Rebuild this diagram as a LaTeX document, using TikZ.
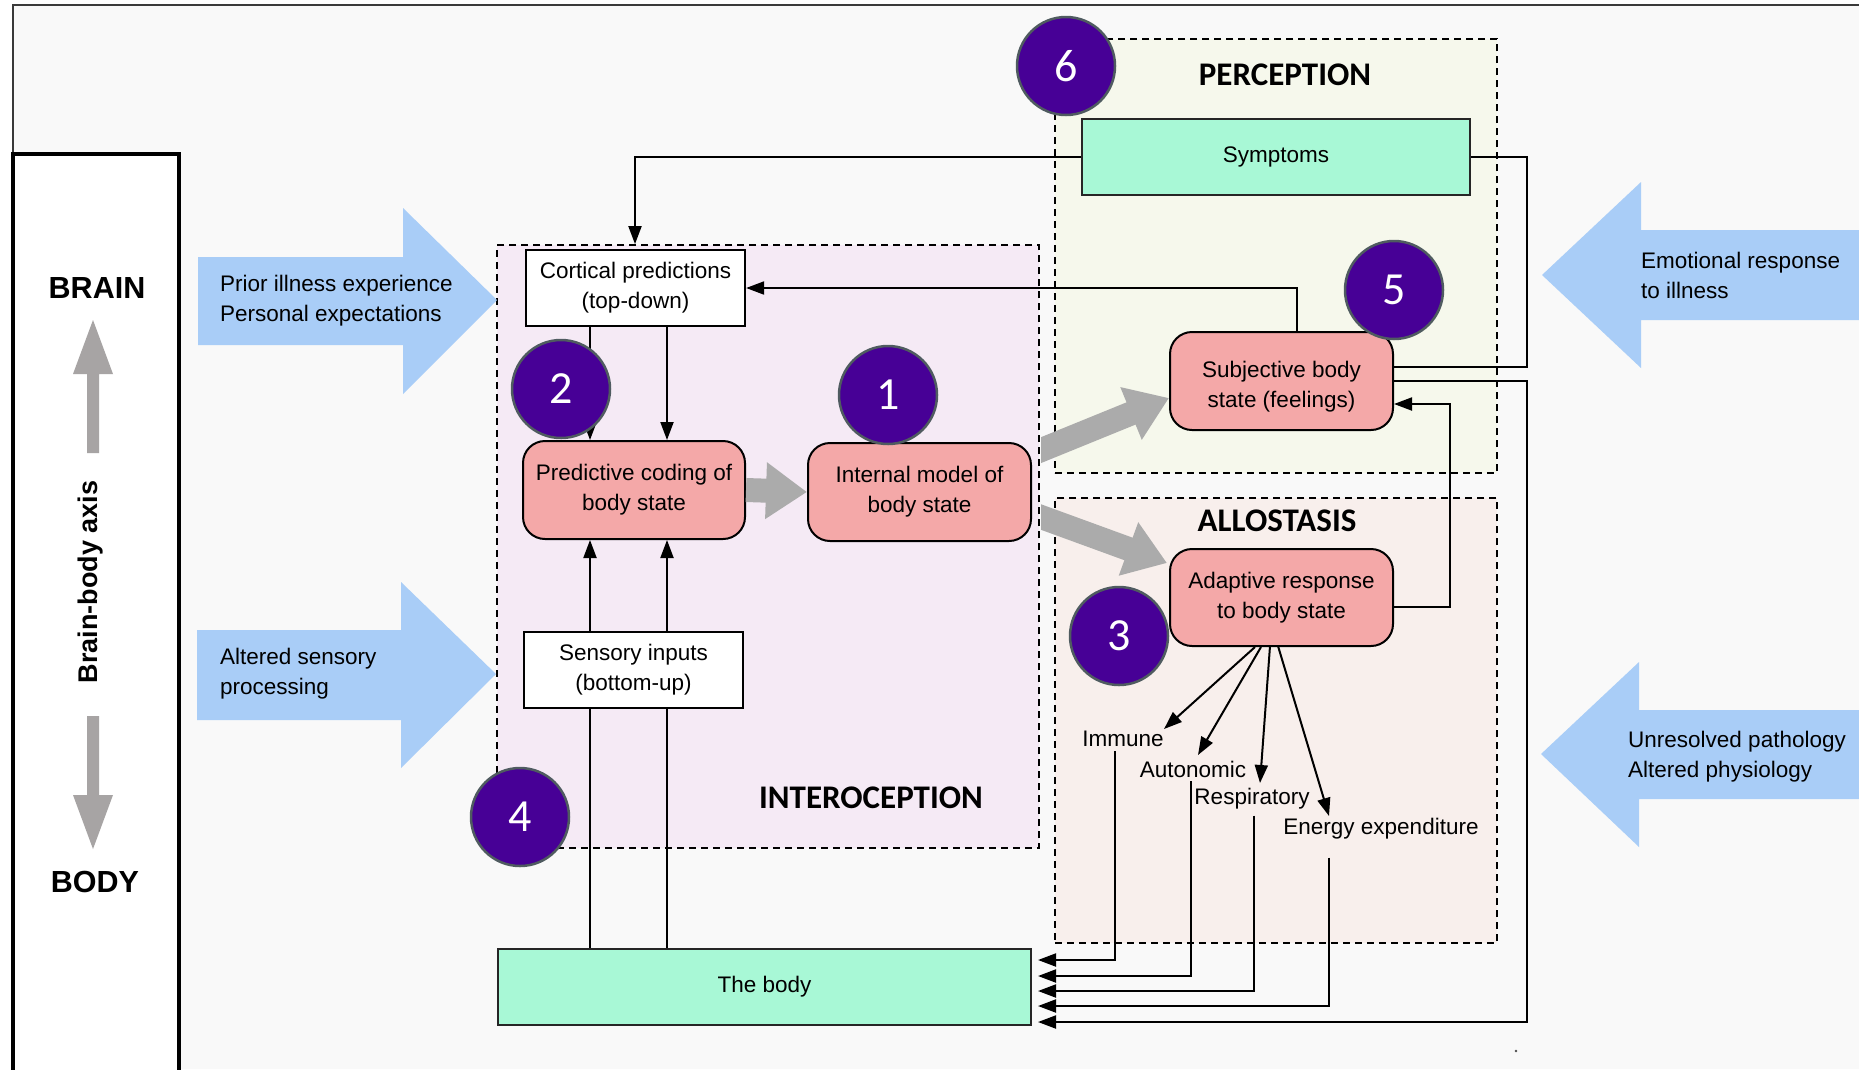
\documentclass[tikz,border=0pt]{standalone}
\usepackage{fontspec}
\setmainfont{Liberation Sans}
\newfontfamily\calib{Carlito}
\usetikzlibrary{arrows.meta}

\definecolor{bgfill}{HTML}{F9F9F9}
\definecolor{framegray}{HTML}{3A3A3A}
\definecolor{introfill}{HTML}{F5EAF5}
\definecolor{percfill}{HTML}{F6F8EC}
\definecolor{allofill}{HTML}{F8EFEC}
\definecolor{pinkfill}{HTML}{F4A8A8}
\definecolor{mintfill}{HTML}{A8F8D6}
\definecolor{badgefill}{HTML}{470096}
\definecolor{badgeline}{HTML}{4F5B60}
\definecolor{skyblue}{HTML}{A9CDF7}
\definecolor{flowgray}{HTML}{ABABAB}
\definecolor{axisgray}{HTML}{A7A4A4}

\tikzset{
  txt/.style={font=\fontsize{22.5}{30}\selectfont, align=center, inner sep=0pt},
  sidetxt/.style={font=\fontsize{22.5}{30}\selectfont, align=left, inner sep=0pt, anchor=west},
  plainbox/.style={txt, draw, line width=2.2, fill=white, minimum width=219, minimum height=76},
  pinkbox/.style={txt, draw, line width=2, fill=pinkfill, rounded corners=22, minimum width=223, minimum height=98},
  mintbox/.style={txt, draw=black!85, line width=2.5, fill=mintfill, minimum height=76},
  region/.style={draw, dash pattern=on 7pt off 5pt, line width=1.8, inner sep=0pt},
  heading/.style={font=\calib\bfseries\fontsize{33}{33}\selectfont, inner sep=0pt},
  axislabel/.style={font=\bfseries\fontsize{30.5}{30.5}\selectfont, inner sep=0pt},
  badge/.style={circle, fill=badgefill, draw=badgeline, line width=2.5, minimum size=98, inner sep=0pt, text=white, font=\calib\fontsize{46}{46}\selectfont},
  link/.style={line width=2, -{Triangle[length=18pt,width=13pt]}},
  plain/.style={line width=2},
  flow/.style={draw=flowgray, line width=24, -{Triangle[length=41pt,width=54pt]}},
  bluearrow/.style={fill=skyblue},
  axisarrow/.style={fill=axisgray}
}

\begin{document}
\begin{tikzpicture}[x=1pt,y=-1pt]
\useasboundingbox (0,0) rectangle (1859,1069);

% page and outer frame
\fill[white] (0,0) rectangle (1859,1069);
\fill[bgfill] (13,5) rectangle (1859,1069);
\draw[framegray, line width=2] (13,1069) -- (13,5) -- (1859,5);

% brain-body axis panel
\draw[line width=4, fill=white] (13,154) rectangle (179,1080);
\node[axislabel] (brain) at (97,288) {BRAIN};
\node[axislabel] (bodyword) at (95,882) {BODY};
\node[font=\bfseries\fontsize{27}{27}\selectfont, inner sep=0pt, rotate=90] (axis) at (91,582) {Brain-body axis};
\fill[axisarrow] (87,453) -- (87,374) -- (73,374) -- (93,320) -- (113,374) -- (99,374) -- (99,453) -- cycle;
\fill[axisarrow] (87,716) -- (87,795) -- (73,795) -- (93,849) -- (113,795) -- (99,795) -- (99,716) -- cycle;

% dashed regions
\node[region, fill=introfill, minimum width=542, minimum height=603] (intro) at (768,546.5) {};
\node[region, fill=percfill, minimum width=442, minimum height=434] (perc) at (1276,256) {};
\node[region, fill=allofill, minimum width=442, minimum height=445] (allo) at (1276,720.5) {};
\node[heading] (introtitle) at (871,798) {INTEROCEPTION};
\node[heading] (perctitle) at (1285,75) {PERCEPTION};
\node[heading] (allotitle) at (1277,521) {ALLOSTASIS};

% external influences
\fill[bluearrow] (198,257) -- (403,257) -- (403,208) -- (497,300) -- (403,394) -- (403,345) -- (198,345) -- cycle;
\node[sidetxt] (prior) at (220,300.5) {Prior illness experience\\Personal expectations};
\fill[bluearrow] (197,630) -- (401,630) -- (401,582) -- (496,674) -- (401,768) -- (401,720) -- (197,720) -- cycle;
\node[sidetxt] (altered) at (220,673.5) {Altered sensory\\processing};
\fill[bluearrow] (1859,230) -- (1641,230) -- (1641,182) -- (1542,275) -- (1641,368) -- (1641,320) -- (1859,320) -- cycle;
\node[sidetxt] (emotion) at (1641,275) {Emotional response\\to illness};
\fill[bluearrow] (1859,710) -- (1639,710) -- (1639,662) -- (1541,754) -- (1639,847) -- (1639,799) -- (1859,799) -- cycle;
\node[sidetxt] (unres) at (1628,756.5) {Unresolved pathology\\Altered physiology};

% boxes
\node[plainbox] (cort) at (635.5,288) {Cortical predictions\\(top-down)};
\node[pinkbox, minimum width=222] (pred) at (634,490) {Predictive coding of\\body state};
\node[pinkbox] (intm) at (919.5,492) {Internal model of\\body state};
\node[plainbox] (sens) at (633.5,670) {Sensory inputs\\(bottom-up)};
\node[mintbox, minimum width=533] (body) at (764.5,987) {The body};
\node[mintbox, minimum width=388] (symp) at (1276,157) {Symptoms};
\node[pinkbox, text height=58pt] (subj) at (1281.5,381) {Subjective body\\state (feelings)};
\node[pinkbox, minimum height=97] (adap) at (1281.5,597.5) {Adaptive response\\to body state};

% broad flows
\draw[flow] (pred.east) -- (intm.west);
\begin{scope}
  \clip (1041,0) rectangle (1859,1069);
  \draw[flow] (1030,454.6) -- (subj.west |- 0,398);
  \coordinate (flowtipB) at (1167,563);
  \draw[flow] (1030,513) -- (flowtipB);
\end{scope}

% helper coordinates for connector routing
\coordinate (xa) at (590,0);
\coordinate (xb) at (667,0);
\coordinate (xc) at (635,0);
\coordinate (xd) at (1297,0);
\coordinate (xe) at (1527,0);
\coordinate (xf) at (1450,0);
\coordinate (ye) at (0,367);
\coordinate (yg) at (0,404);
\coordinate (yh) at (0,607);

% top-down and bottom-up signals
\draw[link] (cort.south -| xa) -- (pred.north -| xa);
\draw[link] (cort.south -| xb) -- (pred.north -| xb);
\draw[plain] (body.north -| xa) -- (sens.south -| xa);
\draw[plain] (body.north -| xb) -- (sens.south -| xb);
\draw[link] (sens.north -| xa) -- (pred.south -| xa);
\draw[link] (sens.north -| xb) -- (pred.south -| xb);

% perception loops
\draw[link] (symp.west) -- (symp.west -| xc) -- (intro.north -| xc);
\draw[link] (subj.north -| xd) |- (cort.east);
\draw[plain] (symp.east) -- (symp.east -| xe) -- (xe |- ye) -- (subj.east |- ye);
\draw[link] (adap.east |- yh) -- (xf |- yh) -- (xf |- yg) -- (subj.east |- yg);

% allostatic outputs
\node[txt] (immune) at (1123,739) {Immune};
\node[txt] (auto) at (1193,769) {Autonomic};
\node[txt] (resp) at (1252,799) {Respiratory};
\node[txt] (energy) at (1381,829) {Energy expenditure};
\coordinate (o1) at (1255,647);
\coordinate (o2) at (1261,647);
\coordinate (o3) at (1270,646);
\coordinate (o4) at (1278,646);
\coordinate (t1) at (1164,729);
\coordinate (t2) at (1198,755);
\coordinate (t3) at (1260,783);
\coordinate (t4) at (1329,816);
\draw[link] (o1) -- (t1);
\draw[link] (o2) -- (t2);
\draw[link] (o3) -- (t3);
\draw[link] (o4) -- (t4);

% feedback to the body
\coordinate (b1) at (1038,960);
\coordinate (b2) at (1038,976);
\coordinate (b3) at (1038,991);
\coordinate (b4) at (1038,1006);
\coordinate (b5) at (1038,1022);
\draw[link] (immune.south -| 1115,0) ++(0,4) |- (b1);
\draw[link] (auto.south -| 1191,0) ++(0,4) |- (b2);
\draw[link] (resp.south -| 1254,0) ++(0,6) |- (b3);
\draw[link] (energy.south -| 1329,0) ++(0,18) |- (b4);
\draw[link] (subj.east) -- (subj.east -| xe) |- (b5);

% numbered markers
\node[badge] (n1) at (888,395) {1};
\node[badge] (n2) at (561,389) {2};
\node[badge] (n3) at (1119,636) {3};
\node[badge] (n4) at (520,817) {4};
\node[badge] (n5) at (1394,290) {5};
\node[badge] (n6) at (1066,66) {6};

% stray mark
\fill[black!70] (1516,1051) circle (1.3);
\end{tikzpicture}
\end{document}
